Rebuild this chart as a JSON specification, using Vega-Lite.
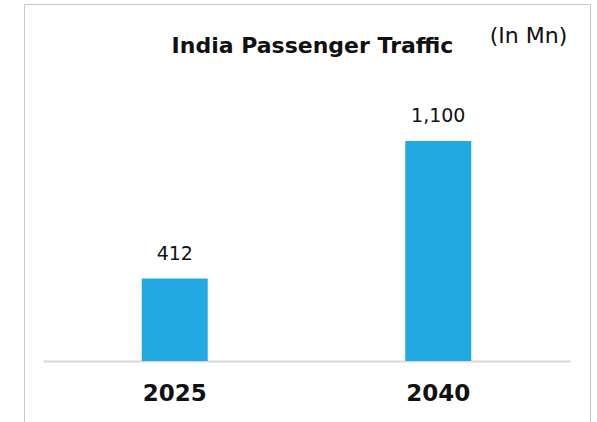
{
  "$schema": "https://vega.github.io/schema/vega-lite/v6.json",
  "autosize": "none",
  "width": 566,
  "height": 440,
  "padding": {"left": 24, "top": 4, "right": 7, "bottom": 0},
  "background": "white",
  "config": {
    "font": "DejaVu Sans",
    "view": {"stroke": "#c8c8c8", "strokeWidth": 1}
  },
  "data": {"values": [
    {"year": "2025", "traffic": 412},
    {"year": "2040", "traffic": 1100}
  ]},
  "encoding": {
    "x": {
      "field": "year", "type": "nominal",
      "scale": {"range": [19, 546], "paddingInner": 0, "paddingOuter": 0},
      "axis": {
        "title": "India Passenger Traffic",
        "titleFont": "DejaVu Sans", "titleFontSize": 22, "titleFontWeight": "bold", "titleColor": "#111111",
        "titleX": 288, "titleY": -309, "titleAlign": "center", "titleBaseline": "alphabetic",
        "offset": -83,
        "domainColor": "#d9d9d9", "domainWidth": 2,
        "ticks": false,
        "labelAngle": 0, "labelFont": "DejaVu Sans", "labelFontSize": 23, "labelFontWeight": "bold", "labelColor": "#111111",
        "labelPadding": 32, "labelBaseline": "middle"
      }
    },
    "y": {
      "field": "traffic", "type": "quantitative",
      "scale": {"domain": [0, 1100], "range": [357, 137], "nice": false, "zero": true},
      "axis": {
        "orient": "right",
        "title": "(In Mn)",
        "titleFont": "DejaVu Sans",
        "titleAngle": 0, "titleX": -62, "titleY": 31, "titleAlign": "center", "titleBaseline": "middle",
        "titleFontSize": 22, "titleFontWeight": "normal", "titleColor": "#111111",
        "domain": false, "ticks": false, "labels": false, "grid": false
      }
    }
  },
  "layer": [
    {"mark": {"type": "bar", "size": 66, "color": "#23a9e1"}},
    {
      "mark": {"type": "text", "font": "DejaVu Sans", "baseline": "middle", "dy": -25, "fontSize": 19, "color": "#111111"},
      "encoding": {"text": {"field": "traffic", "type": "quantitative", "format": ","}}
    }
  ]
}
